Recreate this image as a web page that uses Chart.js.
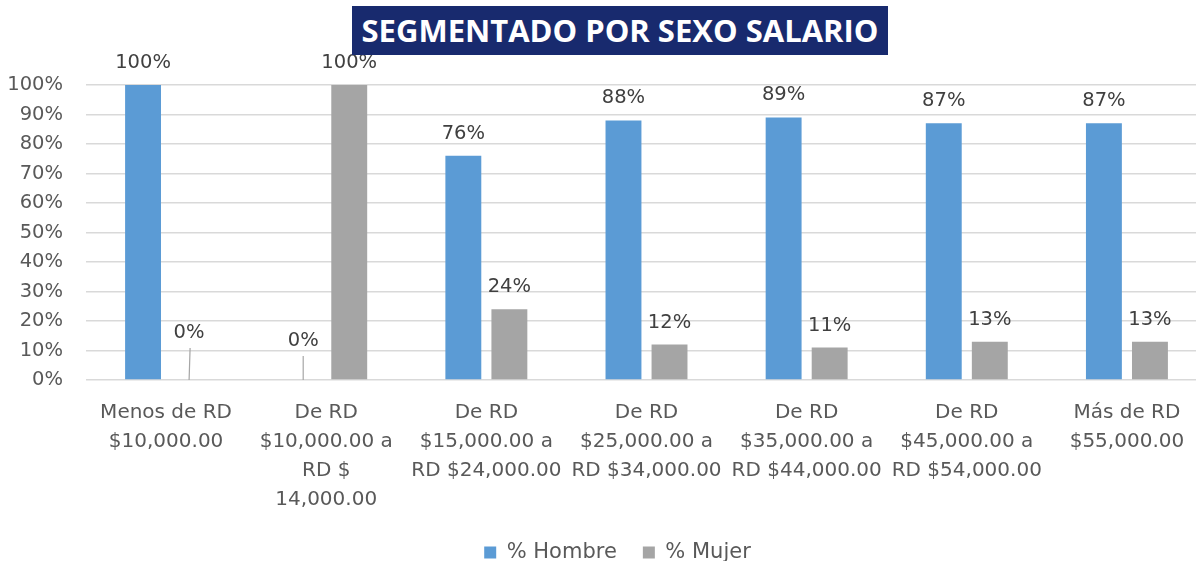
<!DOCTYPE html>
<html>
<head>
<meta charset="utf-8">
<script src="https://cdn.jsdelivr.net/npm/chart.js@4.4.1/dist/chart.umd.min.js"></script>
<style>
    html, body { margin: 0; padding: 0; background: #fff; overflow: hidden; }
    #wrap { position: relative; width: 1196px; height: 561px; overflow: hidden; }
    #chartBox { position: absolute; left: 0; top: 0; width: 1236px; height: 575px; }
    #titulo {
        position: absolute; left: 352px; top: 6px; width: 536px; height: 49px;
        background: #182a6e; color: #fff; font-family: 'Open Sans', sans-serif;
        font-weight: bold; font-size: 31px; line-height: 49px; text-align: center;
        white-space: nowrap;
    }
</style>
</head>
<body>
<div id="wrap">
    <div id="chartBox"><canvas id="salarioChart" width="1236" height="575"></canvas></div>
    <div id="titulo">SEGMENTADO POR SEXO SALARIO</div>
</div>
<script>
// Datos del gráfico
const categorias = [
    ['Menos de RD', '$10,000.00'],
    ['De RD', '$10,000.00 a', 'RD $', '14,000.00'],
    ['De RD', '$15,000.00 a', 'RD $24,000.00'],
    ['De RD', '$25,000.00 a', 'RD $34,000.00'],
    ['De RD', '$35,000.00 a', 'RD $44,000.00'],
    ['De RD', '$45,000.00 a', 'RD $54,000.00'],
    ['Más de RD', '$55,000.00']
];
const hombre = [100, 0, 76, 88, 89, 87, 87];
const mujer = [0, 100, 24, 12, 11, 13, 13];
const ticksY = [0, 10, 20, 30, 40, 50, 60, 70, 80, 90, 100];

const FUENTE = "'DejaVu Sans', sans-serif";

// Etiquetas de datos sobre las barras (con línea guía para los 0%)
const etiquetasPlugin = {
    id: 'etiquetas',
    afterDatasetsDraw(chart) {
        const ctx = chart.ctx;
        const base = chart.scales.y.getPixelForValue(0);
        // elevación manual de algunas etiquetas (dataset-indice)
        const elevar = { '1-0': 25, '0-1': 17 };
        ctx.save();
        ctx.font = '19.5px ' + FUENTE;
        ctx.fillStyle = '#404040';
        ctx.textAlign = 'center';
        ctx.textBaseline = 'alphabetic';
        chart.data.datasets.forEach((ds, di) => {
            chart.getDatasetMeta(di).data.forEach((bar, i) => {
                const extra = elevar[di + '-' + i] || 0;
                const yTexto = bar.y - 17 - extra;
                ctx.fillText(ds.data[i] + '%', bar.x, yTexto);
                if (extra) {
                    ctx.strokeStyle = '#a6a6a6';
                    ctx.lineWidth = 1.2;
                    ctx.beginPath();
                    ctx.moveTo(bar.x + (di === 1 ? 1 : 0), yTexto + 10);
                    ctx.lineTo(bar.x, base);
                    ctx.stroke();
                }
            });
        });
        ctx.restore();
    }
};

// La leyenda del original está algo desplazada a la derecha
const moverLeyenda = {
    id: 'moverLeyenda',
    afterLayout(chart) {
        chart.legend.left += 14;
        chart.legend.right += 14;
    }
};

document.addEventListener('DOMContentLoaded', function() {
    Chart.defaults.color = '#595959';
    Chart.defaults.font.family = FUENTE;

    const ctx = document.getElementById('salarioChart').getContext('2d');
    new Chart(ctx, {
        type: 'bar',
        data: {
            labels: categorias,
            datasets: [{
                label: '% Hombre',
                data: hombre,
                backgroundColor: '#5b9bd5',
                categoryPercentage: 0.575,
                barPercentage: 0.78
            }, {
                label: '% Mujer',
                data: mujer,
                backgroundColor: '#a5a5a5',
                categoryPercentage: 0.575,
                barPercentage: 0.78
            }]
        },
        options: {
            responsive: false,
            animation: false,
            layout: { padding: { top: 85, left: 0, right: 29, bottom: 2 } },
            plugins: {
                legend: {
                    position: 'bottom',
                    labels: {
                        boxWidth: 12,
                        boxHeight: 12,
                        padding: 26,
                        font: { size: 21 },
                        color: '#595959'
                    }
                },
                tooltip: { enabled: false }
            },
            scales: {
                y: {
                    min: 0,
                    max: 100,
                    afterBuildTicks: (axis) => { axis.ticks = ticksY.map(v => ({ value: v })); },
                    afterFit: (axis) => { axis.width = 86; },
                    grid: { color: '#d9d9d9', lineWidth: 1.5, drawTicks: false },
                    border: { display: false },
                    ticks: {
                        padding: 23,
                        font: { size: 19.5 },
                        callback: (v) => v + '%'
                    }
                },
                x: {
                    afterFit: (axis) => { axis.height = 136; },
                    grid: { display: false },
                    border: { display: false },
                    ticks: {
                        autoSkip: false,
                        maxRotation: 0,
                        padding: 10,
                        font: { size: 20, lineHeight: 1.45 }
                    }
                }
            }
        },
        plugins: [etiquetasPlugin, moverLeyenda]
    });
});
</script>
</body>
</html>
